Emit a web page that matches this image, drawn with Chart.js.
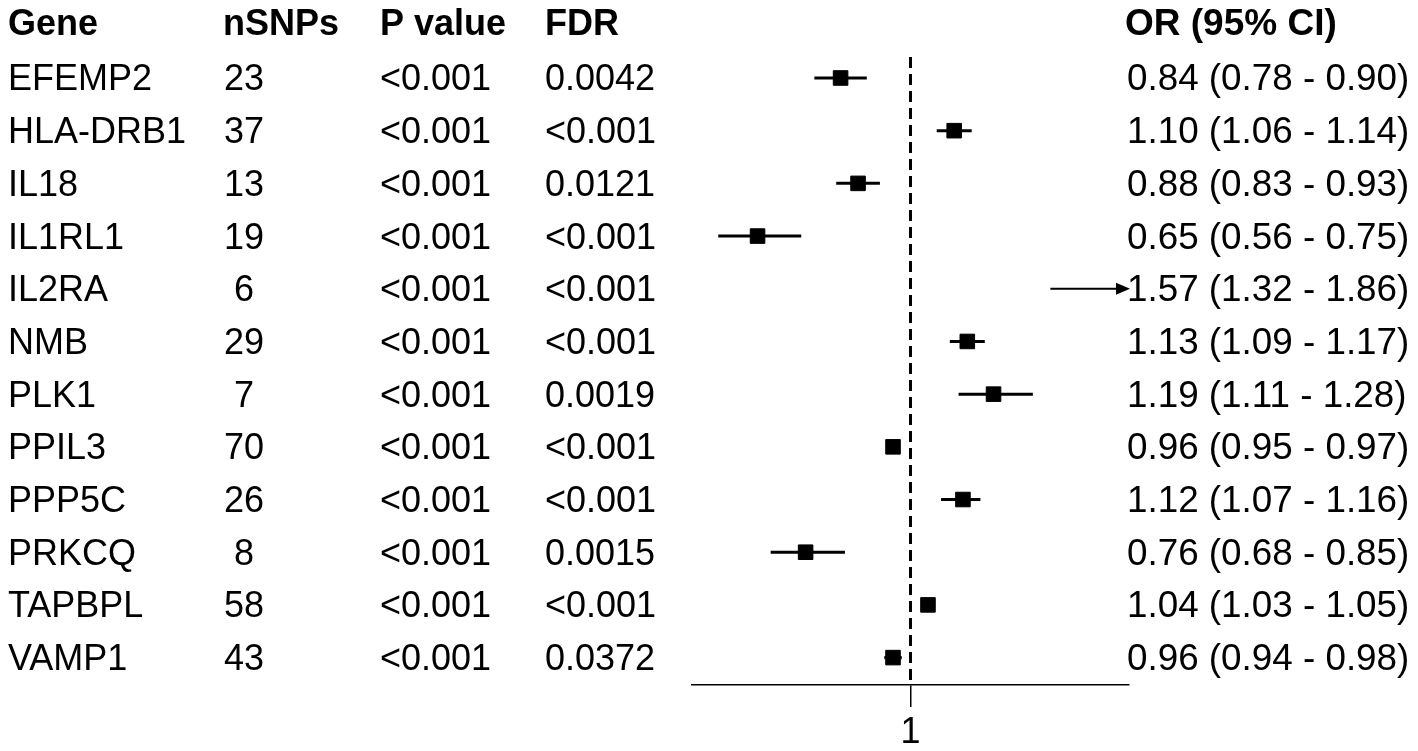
<!DOCTYPE html>
<html>
<head>
<meta charset="utf-8">
<script src="https://cdn.jsdelivr.net/npm/chart.js@4/dist/chart.umd.min.js"></script>
<style>
html,body{margin:0;padding:0;background:#fff;}
#wrap{position:relative;width:1418px;height:751px;}
</style>
</head>
<body>
<div id="wrap"><canvas id="c"></canvas></div>
<script>
// ---- data ----
const genes = ["EFEMP2","HLA-DRB1","IL18","IL1RL1","IL2RA","NMB","PLK1","PPIL3","PPP5C","PRKCQ","TAPBPL","VAMP1"];
const nSNPs = [23,37,13,19,6,29,7,70,26,8,58,43];
const pValues = ["<0.001","<0.001","<0.001","<0.001","<0.001","<0.001","<0.001","<0.001","<0.001","<0.001","<0.001","<0.001"];
const fdrValues = ["0.0042","<0.001","0.0121","<0.001","<0.001","<0.001","0.0019","<0.001","<0.001","0.0015","<0.001","0.0372"];
const orValues = [0.84,1.10,0.88,0.65,1.57,1.13,1.19,0.96,1.12,0.76,1.04,0.96];
const ciLower = [0.78,1.06,0.83,0.56,1.32,1.09,1.11,0.95,1.07,0.68,1.03,0.94];
const ciUpper = [0.90,1.14,0.93,0.75,1.86,1.17,1.28,0.97,1.16,0.85,1.05,0.98];
const headers = ["Gene","nSNPs","P value","FDR","OR (95% CI)"];
const xTicks = [1];

const FONT = '"Liberation Sans", Arial, sans-serif';
const FS = 36;

const orLabels = orValues.map((v,i)=> v.toFixed(2)+" ("+ciLower[i].toFixed(2)+" - "+ciUpper[i].toFixed(2)+")");

// text columns + CI whiskers drawn through the scales
const forestPlugin = {
  id:'forest',
  beforeDatasetsDraw(chart){
    const {ctx, scales:{x,y}} = chart;
    ctx.save();
    ctx.strokeStyle = '#000';
    ctx.fillStyle = '#000';
    for(let i=0;i<orValues.length;i++){
      const py = y.getPixelForValue(i);
      const hiClip = Math.min(ciUpper[i], x.max);
      const x1 = x.getPixelForValue(ciLower[i]);
      const x2 = x.getPixelForValue(hiClip);
      if(ciUpper[i] > x.max || orValues[i] > x.max){
        ctx.lineWidth = 2.2;
        ctx.beginPath();
        ctx.moveTo(x1, py);
        ctx.lineTo(x2-8, py);
        ctx.stroke();
        ctx.beginPath();
        ctx.moveTo(x2+1, py);
        ctx.lineTo(x2-13, py-6);
        ctx.lineTo(x2-13, py+6);
        ctx.closePath();
        ctx.fill();
      } else {
        ctx.lineWidth = 3;
        ctx.beginPath();
        ctx.moveTo(x1, py);
        ctx.lineTo(x2, py);
        ctx.stroke();
      }
    }
    ctx.restore();
  },
  afterDraw(chart){
    const {ctx, scales:{y}} = chart;
    ctx.save();
    ctx.fillStyle = '#000';
    ctx.textBaseline = 'alphabetic';
    const hy = y.getPixelForValue(-1.025) + 11;
    ctx.font = 'bold '+FS+'px '+FONT;
    ctx.textAlign = 'left';
    ctx.fillText(headers[0], 8, hy);
    ctx.fillText(headers[1], 223, hy);
    ctx.fillText(headers[2], 380, hy);
    ctx.fillText(headers[3], 545, hy);
    ctx.font = 'bold 37px '+FONT;
    ctx.fillText(headers[4], 1125, hy);
    for(let i=0;i<genes.length;i++){
      const by = y.getPixelForValue(i) + 12.5;
      ctx.font = FS+'px '+FONT;
      ctx.textAlign = 'left';
      ctx.fillText(genes[i], 8, by);
      ctx.textAlign = 'center';
      ctx.fillText(String(nSNPs[i]), 244, by);
      ctx.textAlign = 'left';
      ctx.fillText(pValues[i], 380, by);
      ctx.fillText(fdrValues[i], 545, by);
      ctx.font = '36.8px '+FONT;
      ctx.fillText(orLabels[i], 1127, by);
    }
    ctx.restore();
  }
};

const pts = orValues.map((v,i)=>({x:v, y:i}));

new Chart(document.getElementById('c'), {
  type:'scatter',
  data:{
    datasets:[
      {
        type:'line',
        data:[{x:1,y:-0.4},{x:1,y:11.52}],
        borderColor:'#000',
        borderWidth:3,
        borderDash:[11,6],
        pointRadius:0,
        fill:false,
        order:2
      },
      {
        data: pts,
        pointStyle:'rect',
        pointRadius:10.3,
        pointHoverRadius:10.3,
        backgroundColor:'#000',
        borderColor:'#000',
        borderWidth:1,
        order:1
      }
    ]
  },
  options:{
    responsive:true,
    maintainAspectRatio:false,
    animation:false,
    events:[],
    layout:{autoPadding:false, padding:{left:692,right:289,top:0,bottom:0}},
    plugins:{legend:{display:false}, tooltip:{enabled:false}},
    scales:{
      x:{
        type:'linear',
        min:0.5, max:1.5,
        afterBuildTicks(scale){ scale.ticks = xTicks.map(v=>({value:v})); },
        afterFit(scale){ scale.height = 66; },
        grid:{display:true, drawOnChartArea:false, drawTicks:true, tickLength:22, color:'#000', lineWidth:1.5},
        border:{display:true, color:'#000', width:1.5},
        ticks:{color:'#000', font:{family:FONT, size:FS}, padding:4, maxRotation:0, callback:(v)=>String(v)}
      },
      y:{
        type:'linear',
        display:false,
        reverse:true,
        min:-1.48, max:11.52
      }
    }
  },
  plugins:[forestPlugin]
});
</script>
</body>
</html>
